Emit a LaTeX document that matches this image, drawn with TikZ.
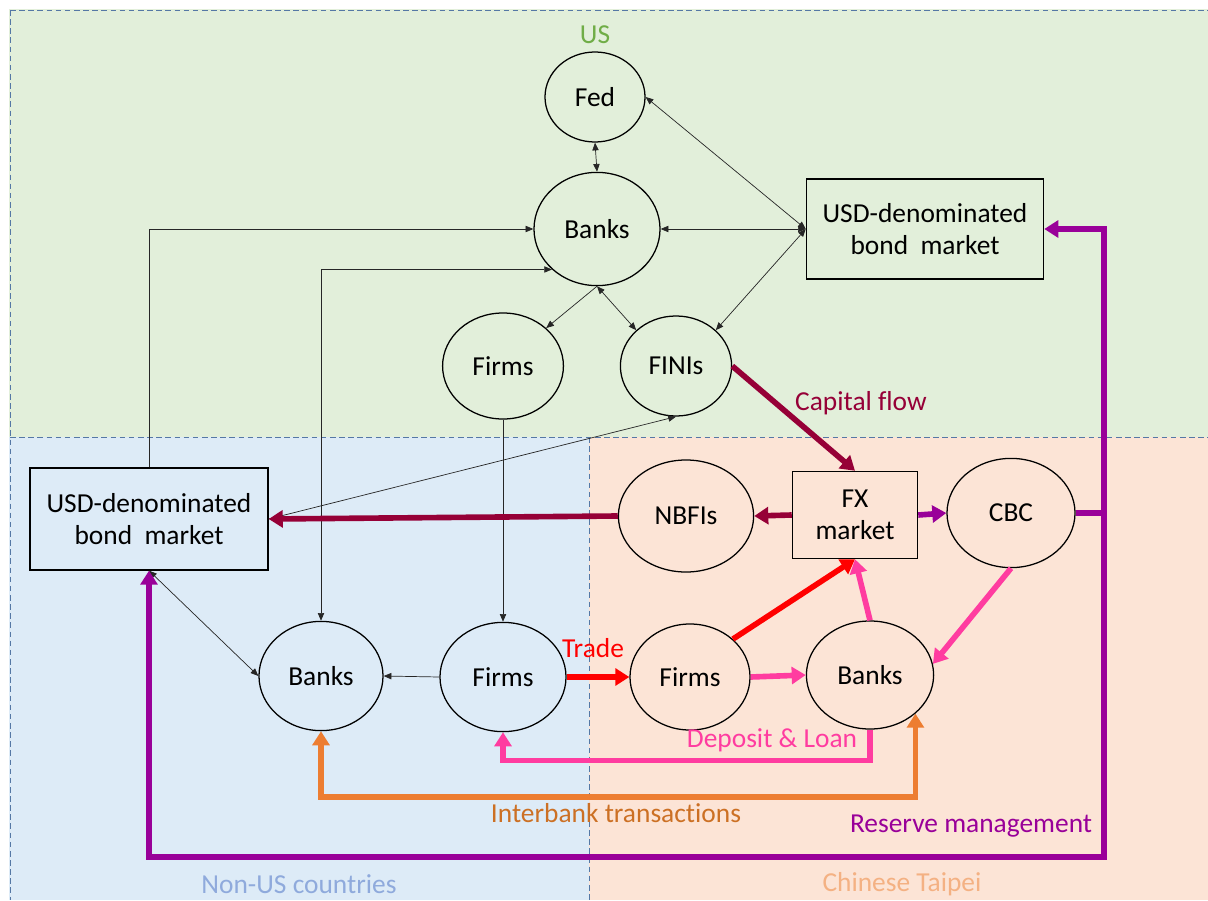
\documentclass[tikz,border=0pt]{standalone}
\usepackage{fontspec}
\setmainfont[Ligatures={NoCommon,NoRare}]{Carlito}
\usepackage{tikz}
\usetikzlibrary{arrows.meta, positioning, shapes.geometric}
\definecolor{usbg}{RGB}{226,239,218}
\definecolor{nubg}{RGB}{221,235,247}
\definecolor{ctbg}{RGB}{252,228,214}
\definecolor{zonedash}{RGB}{85,120,165}
\definecolor{capred}{RGB}{150,0,55}
\definecolor{tradered}{RGB}{255,0,0}
\definecolor{depink}{RGB}{255,60,160}
\definecolor{iborange}{RGB}{237,125,49}
\definecolor{ibtext}{RGB}{204,112,36}
\definecolor{rmpurple}{RGB}{153,0,153}
\definecolor{usgreen}{RGB}{112,173,71}
\definecolor{nutext}{RGB}{143,170,220}
\definecolor{cttext}{RGB}{244,177,131}
\tikzset{
	every node/.style={font=\fontsize{19.5}{23}\selectfont}, % one font for all texts
	ent/.style 2 args={ellipse, draw, line width=0.9pt, inner sep=0pt, minimum width=#1cm, minimum height=#2cm}, % institutions
	mkt/.style 2 args={rectangle, draw, line width=0.9pt, align=center, inner sep=0pt, minimum width=#1cm, minimum height=#2cm}, % markets
	zone/.style={zonedash, line width=0.6pt, dash pattern=on 4pt off 2.5pt}, % region borders
	thinline/.style={black!85, line width=0.5pt, -{Triangle[length=5.5pt,width=4.5pt]}}, % thin links
	thinboth/.style={thinline, {Triangle[length=5.5pt,width=4.5pt]}-{Triangle[length=5.5pt,width=4.5pt]}},
	bigflow/.style={line width=4pt, -{Triangle[length=10pt,width=12pt]}}, % thick flows
	bigboth/.style={line width=4pt, {Triangle[length=10pt,width=12pt]}-{Triangle[length=10pt,width=12pt]}},
}

\begin{document}
\begin{tikzpicture}[x=0.025cm, y=-0.025cm]
		\useasboundingbox (0,0) rectangle (1208,900);
		% regions
		\fill[usbg] (9,9) rectangle (1208,437);
		\fill[nubg] (9,437) rectangle (589,900);
		\fill[ctbg] (589,437) rectangle (1208,900);
		\draw[zone] (10,10) -- (1208,10);
		\draw[zone] (10,10) -- (10,900);
		\draw[zone] (10,437) -- (1208,437);
		\draw[zone] (589,437) -- (589,900);

		% US
		\node[ent={2.5}{2.25}](fed) at (595,97){Fed};
		\node[ent={3.15}{2.83}](bankUS) at (597,229){Banks};
		\node[mkt={5.93}{2.5}](bondUS) at (925,229){USD-denominated\\bond~ market};
		\node[ent={3.02}{2.65}](firmUS) at (503,366){Firms};
		\node[ent={2.78}{2.5}](fini) at (676,366){FINIs};

		% Non-US countries
		\node[mkt={5.95}{2.55}](bondNU) at (149,519){USD-denominated\\bond~ market};
		\node[ent={3.1}{2.73}](bankNU) at (321,676){Banks};
		\node[ent={3.15}{2.73}](firmNU) at (503,677){Firms};

		% Chinese Taipei
		\node[ent={3.38}{2.8}](nbfi) at (686,516){NBFIs};
		\node[mkt={3.13}{2.18}](fx) at (855,515){FX\\market};
		\node[ent={3.2}{2.73}](cbc) at (1011,513){CBC};
		\node[ent={3.0}{2.65}](firmCT) at (690,677){Firms};
		\node[ent={3.18}{2.7}](bankCT) at (870,675){Banks};

		% thin links
		\draw[thinboth] (fed.south) -- (bankUS.north);
		\foreach \t in {fed.east, bankUS.east, fini.north east}
		{
			\draw[thinboth] (bondUS.west) -- (\t);
		}
		\draw[thinline] (bankUS.south) -- (firmUS.north east);
		\draw[thinboth] (bankUS.south) -- (fini.north west);
		\draw[thinline] (bondNU.north) |- (bankUS.west);
		\draw[thinboth] (bankNU.north) |- (bankUS.south west);
		\draw[thinline] (firmUS.south) -- (firmNU.north);
		\draw[thinline] (bondNU.east) -- (fini.south);
		\draw[thinboth] (bondNU.south) -- (bankNU.west);
		\draw[thinline] (firmNU.west) -- (bankNU.east);

		% capital flow
		\draw[bigflow, capred] (fini.east) -- (fx.north);
		\draw[bigflow, capred] (fx.west) -- (nbfi.east);
		\draw[bigflow, capred] (nbfi.west) -- (bondNU.east);

		% trade
		\draw[bigflow, tradered] (firmNU.east) -- (firmCT.west);
		\draw[bigflow, tradered] (firmCT.north east) -- (fx.south);

		% deposit & loan
		\draw[bigflow, depink] (firmCT.east) -- (bankCT.west);
		\draw[bigflow, depink] (bankCT.north) -- (fx.south);
		\draw[bigflow, depink] (cbc.south) -- (bankCT.10);
		\draw[bigflow, depink] (bankCT.south) -- ++(0,31) -| (firmNU.south);

		% interbank transactions
		\draw[bigboth, iborange] (bankNU.south) -- ++(0,66) -| (bankCT.south east);

		% reserve management
		\coordinate (busT) at (1104,229);
		\coordinate (busB) at (1104,857);
		\draw[bigflow, rmpurple] (fx.east) -- (cbc.west);
		\draw[line width=4pt, rmpurple] (cbc.east) -- (cbc.east -| busT);
		\draw[bigboth, rmpurple] (bondUS.east) -- (busT) -- (busB) -| (bondNU.south);

		% labels
		\node[text=usgreen](lUS) at (595,35){US};
		\node[text=capred](lcap) at (861,403){Capital flow};
		\node[text=tradered](ltrade) at (593,648){Trade};
		\node[text=depink](ldep) at (772,740){Deposit \& Loan};
		\node[text=ibtext](lib) at (616,813){Interbank transactions};
		\node[text=rmpurple](lrm) at (971,826){Reserve management};
		\node[text=nutext](lNU) at (299,884){Non-US countries};
		\node[text=cttext](lCT) at (902,884){Chinese Taipei};

	\end{tikzpicture}
\end{document}
